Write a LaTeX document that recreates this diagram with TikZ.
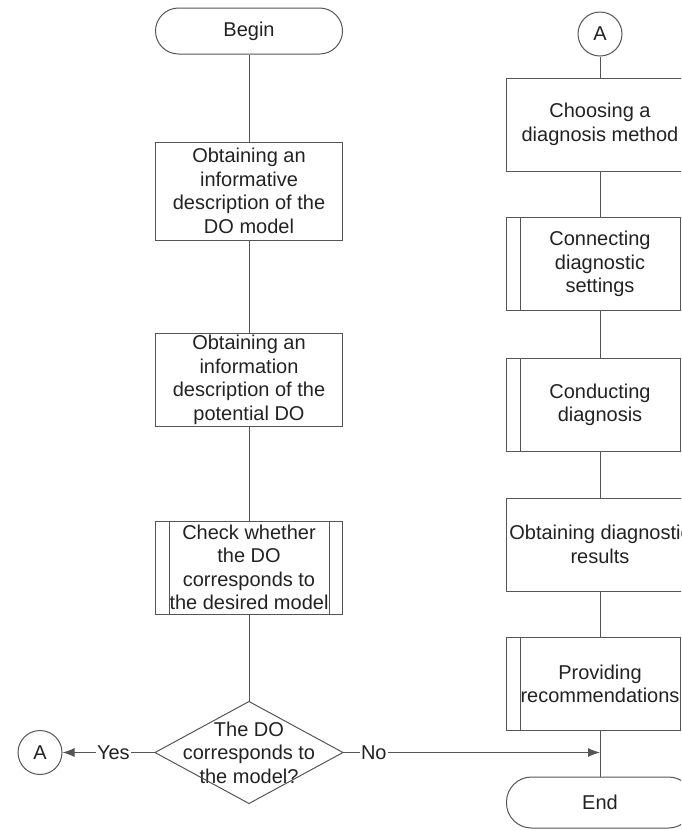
\documentclass[tikz,border=0pt]{standalone}
\usepackage{fontspec}
\setmainfont{Liberation Sans}
\usetikzlibrary{arrows.meta}
\definecolor{linegray}{HTML}{555555}
\definecolor{textgray}{HTML}{222222}
\tikzset{
  term/.style={draw=linegray, rounded corners=23pt, minimum width=187pt, minimum height=46pt, inner sep=0pt},
  proc/.style={draw=linegray, minimum width=187pt, minimum height=93pt, inner sep=0pt, align=center},
  dec/.style={minimum width=187pt, minimum height=101pt, inner sep=0pt, align=center},
  conn/.style={draw=linegray, circle, minimum size=44pt, inner sep=0pt},
  lbl/.style={fill=white, inner sep=1pt}
}
\begin{document}
\begin{tikzpicture}[x=1pt, y=-1pt, line width=1pt, draw=linegray, text=textgray,
  font=\fontsize{20}{23.5}\selectfont]
\clip (0,0) rectangle (681,831);
\node[term] (begin) at (249,31) {Begin};
\node[proc, minimum height=98pt] (b1) at (249,191) {Obtaining an\\informative\\description of the\\DO model};
\node[proc] (b2) at (249,380) {Obtaining an\\information\\description of the\\potential DO};
\node[proc] (b3) at (249,567.5) {Check whether\\the DO\\corresponds to\\the desired model};
\node[dec] (dia) at (249,752.5) {The DO\\corresponds to\\the model?};
\draw (dia.north) -- (dia.east) -- (dia.south) -- (dia.west) -- cycle;
\node[conn] (a1) at (40,752.5) {A};
\node[conn] (a2) at (600,34) {A};
\node[proc] (m1) at (600,124.5) {Choosing a\\diagnosis method};
\node[proc] (m2) at (600,264) {Connecting\\diagnostic\\settings};
\node[proc] (m3) at (600,405) {Conducting\\diagnosis};
\node[proc] (m4) at (600,544.5) {Obtaining diagnostic\\results};
\node[proc] (m5) at (600,684) {Providing\\recommendations};
\node[term, minimum height=51pt, rounded corners=25pt] (end) at (600,802.5) {End};
\foreach \n in {b3,m2,m3,m5} {
  \draw ([xshift=14pt]\n.north west) -- ([xshift=14pt]\n.south west);
  \draw ([xshift=-14pt]\n.north east) -- ([xshift=-14pt]\n.south east);
}
\draw (begin) -- (b1) -- (b2) -- (b3) -- (dia.north);
\draw (a2) -- (m1) -- (m2) -- (m3) -- (m4) -- (m5) -- (end);
\draw[-{Latex[length=12pt,width=9pt]}] (dia.west) -- node[lbl, pos=0.45] {Yes} (a1);
\coordinate (join) at (dia.east -| m5.south);
\draw[-{Latex[length=12pt,width=9pt]}] (dia.east) -- node[lbl, pos=0.12] {No} (join);
\end{tikzpicture}
\end{document}
